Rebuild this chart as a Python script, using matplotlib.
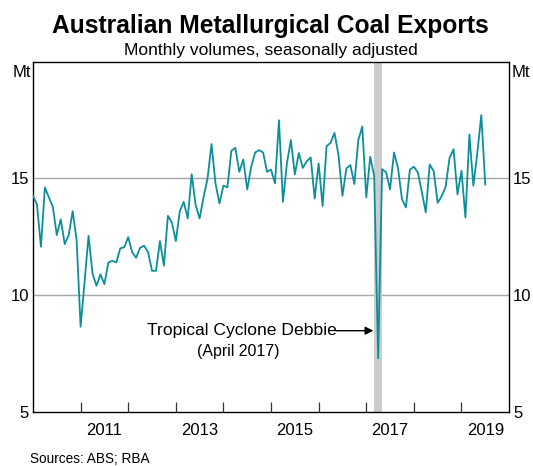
import numpy as np
import matplotlib
matplotlib.use("Agg")
import matplotlib.pyplot as plt

plt.rcParams['font.family'] = ['Liberation Sans', 'DejaVu Sans']

start_year = 2010
# Monthly values, Jan 2010 - Jul 2019 (Mt)
values = [
    14.26, 13.89, 12.08, 14.62, 14.19, 13.79, 12.58, 13.25, 12.19, 12.58, 13.60, 12.36,  # 2010
    8.66, 10.58, 12.55, 10.94, 10.41, 10.90, 10.48, 11.41, 11.48, 11.41, 12.01, 12.06,  # 2011
    12.49, 11.84, 11.61, 12.04, 12.12, 11.85, 11.05, 11.05, 12.32, 11.27, 13.40, 13.12,  # 2012
    12.32, 13.60, 14.00, 13.29, 15.18, 13.86, 13.29, 14.21, 15.00, 16.47, 14.79, 13.93,  # 2013
    14.69, 14.62, 16.18, 16.31, 15.28, 15.81, 14.53, 15.50, 16.11, 16.21, 16.11, 15.28,  # 2014
    15.38, 14.79, 17.49, 14.00, 15.64, 16.64, 15.17, 16.09, 15.45, 15.74, 15.90, 14.14,  # 2015
    15.64, 13.82, 16.38, 16.52, 16.95, 16.00, 14.26, 15.43, 15.57, 14.76, 16.64, 17.22,  # 2016
    14.19, 15.93, 15.10, 7.31, 15.40, 15.26, 14.53, 16.11, 15.45, 14.12, 13.76, 15.38,  # 2017
    15.50, 15.26, 14.43, 13.55, 15.60, 15.31, 13.96, 14.24, 14.64, 15.88, 16.25, 14.32,  # 2018
    15.33, 13.33, 16.88, 14.69, 16.10, 17.71, 14.74,                                    # 2019
]
x = start_year + np.arange(len(values)) / 12.0

year_ticks = list(range(2011, 2020))
year_labels = ['2011', '2013', '2015', '2017', '2019']
y_ticks = [5, 10, 15]
band = (2017.17, 2017.34)

fig = plt.figure(figsize=(5.33, 4.66), dpi=100)
ax = fig.add_axes([0.0619, 0.1152, 0.9551 - 0.0619, 0.868 - 0.1152])

ax.axvspan(band[0], band[1], color='#cccccc', lw=0, zorder=1)
for yv in [10, 15]:
    ax.axhline(yv, color='#a6a6a6', lw=1.0, zorder=0)

ax.plot(x, values, color='#0d8f9b', lw=1.3, zorder=3)

ax.set_xlim(2010, 2020)
ax.set_ylim(5, 20)

ax.set_xticks(year_ticks)
ax.set_xticklabels([])
ax.tick_params(axis='x', which='major', direction='in', length=7.5, width=0.9, color='#333333')
ax.set_xticks([int(l) + 0.5 for l in year_labels], minor=True)
ax.set_xticklabels(year_labels, minor=True)
ax.tick_params(axis='x', which='minor', length=0, labelsize=12, pad=8)

ax.set_yticks(y_ticks)
ax.set_yticklabels([str(v) for v in y_ticks])
ax.tick_params(axis='y', which='both', length=0, labelsize=12, pad=3,
               labelleft=True, labelright=True)

for s in ax.spines.values():
    s.set_color('black')
    s.set_linewidth(1.0)

ax.text(-0.004, 0.99, 'Mt', transform=ax.transAxes, ha='right', va='top', fontsize=12)
ax.text(1.006, 0.99, 'Mt', transform=ax.transAxes, ha='left', va='top', fontsize=12)

fig.text(0.507, 0.929, 'Australian Metallurgical Coal Exports', ha='center', va='baseline',
         fontsize=17.7, fontweight='bold')
fig.text(0.508, 0.883, 'Monthly volumes, seasonally adjusted', ha='center', va='baseline',
         fontsize=12.5)

ax.annotate('', xy=(2017.15, 8.49), xytext=(2016.37, 8.49),
            arrowprops=dict(arrowstyle='-|>', color='black', lw=1.0,
                            mutation_scale=12, shrinkA=0, shrinkB=0))
ax.text(2016.38, 8.49, 'Tropical Cyclone Debbie', ha='right', va='center', fontsize=12.6)
ax.text(2014.31, 7.62, '(April 2017)', ha='center', va='center', fontsize=11.4)

fig.text(0.056, 0.015, 'Sources: ABS; RBA', ha='left', va='center', fontsize=9.8)

fig.savefig('out.png', dpi=100)
